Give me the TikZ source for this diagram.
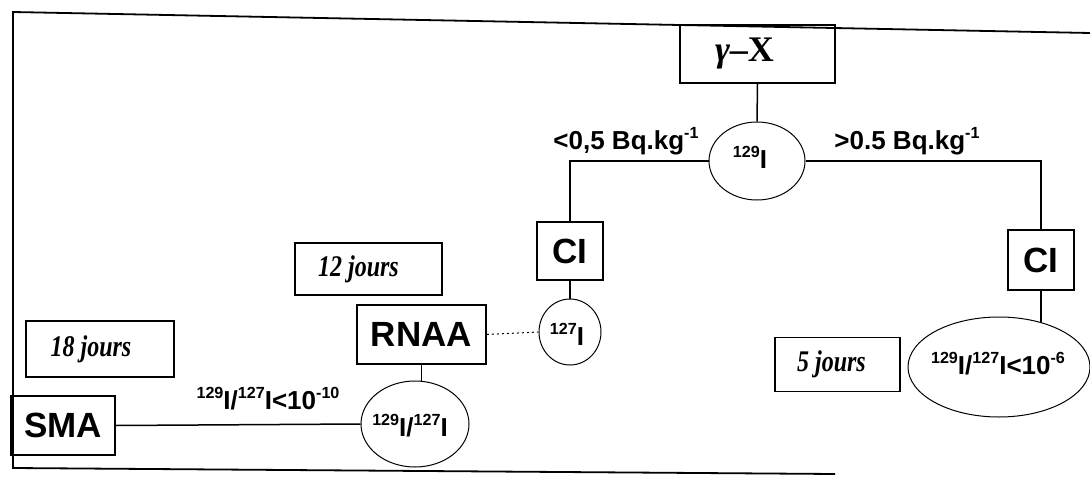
\documentclass[tikz,border=0pt]{standalone}
\usepackage{fontspec}
\setmainfont{Liberation Serif}
\newfontfamily\arialf{Liberation Sans}
\newfontfamily\jourf[FakeStretch=0.8]{Liberation Serif}
\newcommand\sups[1]{\raisebox{0.42em}{\scalebox{0.62}{#1}}}
\usetikzlibrary{shapes.geometric}
\begin{document}
\begin{tikzpicture}[x=1pt,y=-1pt,
  boxn/.style={draw, line width=1.8pt, rectangle, inner sep=0pt},
  bigs/.style={font=\arialf\bfseries\fontsize{35}{40}\selectfont},
  ital/.style={font=\jourf\bfseries\itshape\fontsize{30}{34}\selectfont},
  circn/.style={draw, ellipse, line width=1pt, inner sep=0pt},
  smalls/.style={font=\arialf\bfseries\fontsize{26}{30}\selectfont, inner sep=0pt},
  conn/.style={line width=1.5pt}]
\useasboundingbox (0,0) rectangle (1090,479);
% frame
\draw[line width=1.8pt] (1090,33) -- (13,12) -- (13,468) -- (835,474);
% boxes
\node[boxn, minimum width=155pt, minimum height=58pt, font=\bfseries\fontsize{36}{40}\selectfont] (gx) at (757.5,54) {{\itshape γ}--X\hspace*{26pt}};
\node[boxn, bigs, minimum width=66pt, minimum height=58pt] (ciL) at (570,251) {CI};
\node[boxn, bigs, minimum width=66pt, minimum height=60pt] (ciR) at (1041,260) {CI};
\node[boxn, bigs, minimum width=129pt, minimum height=59pt] (rnaa) at (421.5,334.5) {RNAA};
\node[boxn, bigs, minimum width=104pt, minimum height=59pt] (sma) at (63,425.5) {SMA};
\node[boxn, ital, minimum width=147pt, minimum height=52pt] (j12) at (368.5,269) {12 jours\hspace*{20pt}};
\node[boxn, ital, minimum width=148pt, minimum height=56pt] (j18) at (100,349) {18 jours\hspace*{18pt}};
\node[boxn, ital, minimum width=125pt, minimum height=54pt] (j5) at (837.5,364.5) {5 jours\hspace*{12pt}};
% ellipses
\node[circn, minimum width=96pt, minimum height=78pt] (c129) at (757,161) {};
\node[circn, minimum width=62pt, minimum height=66pt] (c127) at (570,332) {};
\node[circn, minimum width=108pt, minimum height=86pt] (rat) at (415,424) {};
\node[circn, minimum width=182pt, minimum height=100pt] (ellR) at (999,367) {};
% ellipse texts
\node[smalls] (t129) at (750,157) {\sups{129}I};
\node[smalls] (t127) at (567,334) {\sups{127}I};
\node[smalls] (trat) at (410,426) {\sups{129}I/\sups{127}I};
\node[smalls] (tellR) at (998,364) {\sups{129}I/\sups{127}I<10\sups{-6}};
% labels
\node[smalls] (lblL) at (626,141) {<0,5 Bq.kg\sups{-1}};
\node[smalls] (lblR) at (907,141) {>0.5 Bq.kg\sups{-1}};
\node[smalls] (lblB) at (268,399) {\sups{129}I/\sups{127}I<10\sups{-10}};
% connectors
\draw[conn] (gx.south) -- (c129.north);
\draw[conn] (c129.west) -| (ciL.north);
\draw[conn] (c129.east) -| (ciR.north);
\draw[conn] (ciL.south) -- (c127.north);
\draw[line width=1pt, dash pattern=on 2pt off 3pt] (rnaa.east) -- (c127.west);
\draw[conn] (rnaa.south) -- (rnaa.south |- rat.north);
\draw[conn] (sma.east) -- (rat.west);
\path (ellR.46.6) coordinate (eR);
\draw[conn] (ciR.south) -- (ciR.south |- eR);
\end{tikzpicture}
\end{document}
